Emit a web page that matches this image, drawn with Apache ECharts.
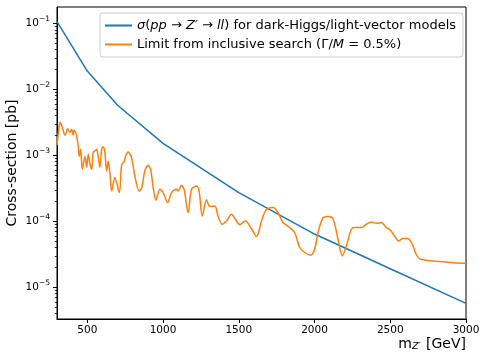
<!DOCTYPE html>
<html>
<head>
<meta charset="utf-8">
<script src="https://cdn.jsdelivr.net/npm/echarts@6/dist/echarts.min.js"></script>
<style>
  html, body { margin: 0; padding: 0; background: #fff; }
  #chart { width: 482px; height: 352px; }
</style>
</head>
<body>
<div id="chart"></div>
<script>
// Z' mass points [GeV] and predicted cross-section [pb] for the benchmark models
const modelMass = [300, 500, 700, 1000, 1500, 2000, 2500, 3000];
const modelXsec = [0.106, 0.0189, 0.00573, 0.00152, 2.72e-4, 6.4e-5, 1.91e-5, 5.7e-6];

// Observed limit from the inclusive dilepton search (Gamma/M = 0.5%)
const limitMass = [
  300, 310, 320, 333, 353, 371, 386, 397, 407, 414, 430, 440, 447, 456, 467, 485,
  496, 506, 518, 529, 539, 551, 562, 572, 583, 595, 605, 616, 628, 638, 649, 661,
  682, 711, 727, 742, 755, 770, 792, 814, 843, 858, 880, 902, 918, 935, 953, 979,
  1001, 1030, 1056, 1089, 1100, 1122, 1139, 1166, 1188, 1221, 1238, 1259, 1287, 1309,
  1342, 1363, 1390, 1419, 1452, 1478, 1507, 1543, 1586, 1617, 1650, 1671, 1693, 1726,
  1759, 1792, 1836, 1869, 1902, 1935, 1973, 2001, 2023, 2056, 2089, 2122, 2155, 2184,
  2210, 2243, 2265, 2309, 2342, 2375, 2408, 2441, 2474, 2500, 2528, 2555, 2583, 2616,
  2645, 2671, 2693, 2737, 2825, 2913, 3000
];
const limitXsec = [
  1.42e-3, 2.31e-3, 3.16e-3, 2.75e-3, 2.01e-3, 2.52e-3, 2.23e-3, 2.48e-3, 2.01e-3, 2.39e-3, 1.94e-3, 1.37e-3, 9.66e-4, 1.23e-3, 6.14e-4, 9.66e-4,
  6.58e-4, 1.04e-3, 7.31e-4, 6.14e-4, 1.11e-3, 1.17e-3, 1.23e-3, 9.66e-4, 6.58e-4, 1.23e-3, 1.35e-3, 1.11e-3, 5.78e-4, 8.11e-4, 5.52e-4, 2.88e-4,
  4.59e-4, 2.72e-4, 7.31e-4, 7.91e-4, 1.0e-3, 1.12e-3, 9.23e-4, 4.85e-4, 2.88e-4, 3.13e-4, 5.78e-4, 7.05e-4, 6.14e-4, 3.24e-4, 2.08e-4, 3.05e-4,
  2.72e-4, 1.92e-4, 2.72e-4, 3.05e-4, 2.88e-4, 3.51e-4, 3.05e-4, 1.35e-4, 3.05e-4, 3.43e-4, 2.88e-4, 1.20e-4, 2.12e-4, 1.67e-4,
  1.71e-4, 1.20e-4, 9.01e-5, 1.01e-4, 1.28e-4, 1.07e-4, 8.85e-5, 1.01e-4, 7.57e-5, 5.86e-5, 1.01e-4, 1.37e-4, 1.56e-4, 1.61e-4,
  1.35e-4, 9.55e-5, 8.03e-5, 6.75e-5, 4.0e-5, 3.36e-5, 3.06e-5, 3.77e-5, 6.75e-5, 1.13e-4, 1.18e-4, 1.10e-4, 5.34e-5, 2.98e-5,
  4.22e-5, 7.57e-5, 8.03e-5, 8.03e-5, 9.01e-5, 9.75e-5, 9.33e-5, 9.55e-5, 8.03e-5, 7.38e-5, 5.98e-5, 5.03e-5, 5.47e-5, 5.47e-5,
  4.49e-5, 3.16e-5, 2.72e-5, 2.56e-5, 2.45e-5, 2.36e-5, 2.31e-5
];

// Axis ticks
const xTicks = [500, 1000, 1500, 2000, 2500, 3000];
const yMajorTicks = [1e-5, 1e-4, 1e-3, 1e-2, 1e-1];
const yMinorTicks = [];
for (let e = -6; e <= -2; e++) {
  for (let m = 2; m <= 9; m++) {
    const v = m * Math.pow(10, e);
    if (v > 3.3e-6 && v < 0.177) yMinorTicks.push(v);
  }
}

const yMin = 3.3e-6, yMax = 0.177;
const FONT = 'DejaVu Sans';

function sciLabel(v) {
  const e = Math.round(Math.log10(v));
  return '{b|10}{s|\u2212' + Math.abs(e) + '}';
}

const chart = echarts.init(document.getElementById('chart'), null, { renderer: 'canvas' });
chart.setOption({
  animation: false,
  backgroundColor: '#ffffff',
  textStyle: { fontFamily: FONT },
  grid: {
    left: 57, right: 16, top: 7, bottom: 33,
    containLabel: false,
    outerBoundsMode: 'none',
    show: true, borderColor: '#000', borderWidth: 1, backgroundColor: 'transparent'
  },
  legend: {
    orient: 'vertical',
    left: 100, top: 13,
    padding: [5, 7, 5, 5],
    icon: 'rect',
    itemWidth: 27, itemHeight: 2, itemGap: 4,
    backgroundColor: 'rgba(255,255,255,0.8)',
    borderColor: '#cccccc', borderWidth: 1, borderRadius: 3,
    data: ['model', 'limit'],
    textStyle: {
      fontFamily: FONT, fontSize: 13, color: '#000', lineHeight: 15,
      rich: {
        i: { fontFamily: FONT, fontStyle: 'italic', fontSize: 13, color: '#000', lineHeight: 15 }
      }
    },
    formatter: function (name) {
      if (name === 'model') {
        return '{i|\u03C3}(' + '{i|pp}' + ' \u2192 ' + '{i|Z\u2032}' + ' \u2192 ' + '{i|ll}' + ') for dark-Higgs/light-vector models';
      }
      return 'Limit from inclusive search (\u0393/{i|M} = 0.5%)';
    }
  },
  xAxis: {
    type: 'value',
    min: 300, max: 3000,
    axisLine: { show: true, lineStyle: { color: '#000', width: 1 } },
    axisTick: { show: true, length: 4, customValues: xTicks, lineStyle: { color: '#000', width: 1 } },
    axisLabel: {
      customValues: xTicks, fontFamily: FONT, fontSize: 10.5, color: '#000', margin: 6,
      formatter: v => String(v)
    },
    splitLine: { show: false }
  },
  yAxis: [
    {
      type: 'log', logBase: 10,
      min: yMin, max: yMax,
      axisLine: { show: true, lineStyle: { color: '#000', width: 1 } },
      axisTick: { show: true, length: 4, customValues: yMajorTicks, lineStyle: { color: '#000', width: 1 } },
      axisLabel: {
        customValues: yMajorTicks,
        margin: 7,
        formatter: sciLabel,
        rich: {
          b: { fontFamily: FONT, fontSize: 10.5, color: '#000' },
          s: { fontFamily: FONT, fontSize: 7.5, color: '#000', padding: [0, 0, 8, 0] }
        }
      },
      splitLine: { show: false }
    },
    {
      type: 'log', logBase: 10,
      min: yMin, max: yMax,
      position: 'left',
      axisLine: { show: false },
      axisTick: { show: true, length: 2.2, customValues: yMinorTicks, lineStyle: { color: '#000', width: 0.8 } },
      axisLabel: { show: false },
      splitLine: { show: false }
    }
  ],
  series: [
    {
      name: 'model',
      type: 'line',
      yAxisIndex: 0,
      symbol: 'none',
      data: modelMass.map((m, i) => [m, modelXsec[i]]),
      lineStyle: { color: '#1f77b4', width: 1.5 },
      itemStyle: { color: '#1f77b4' }
    },
    {
      name: 'limit',
      type: 'line',
      yAxisIndex: 0,
      symbol: 'none',
      smooth: 0.3,
      data: limitMass.map((m, i) => [m, limitXsec[i]]),
      lineStyle: { color: '#ff7f0e', width: 1.5 },
      itemStyle: { color: '#ff7f0e' }
    }
  ],
  graphic: [
    {
      // y-axis title
      type: 'text',
      x: 12.5, y: 163,
      rotation: Math.PI / 2,
      style: {
        text: 'Cross-section [pb]',
        font: '14px "DejaVu Sans"',
        fill: '#000',
        textAlign: 'center',
        textVerticalAlign: 'middle'
      }
    },
    {
      // x-axis title
      type: 'text',
      right: 16, top: 337,
      style: {
        text: '{n|m}{z|Z\u2032}{n| [GeV]}',
        rich: {
          n: { fontFamily: FONT, fontSize: 14, fill: '#000', color: '#000' },
          z: { fontFamily: FONT, fontSize: 9.5, fontStyle: 'italic', fill: '#000', color: '#000', padding: [6, 1, 0, 0] }
        }
      }
    }
  ]
});
</script>
</body>
</html>
